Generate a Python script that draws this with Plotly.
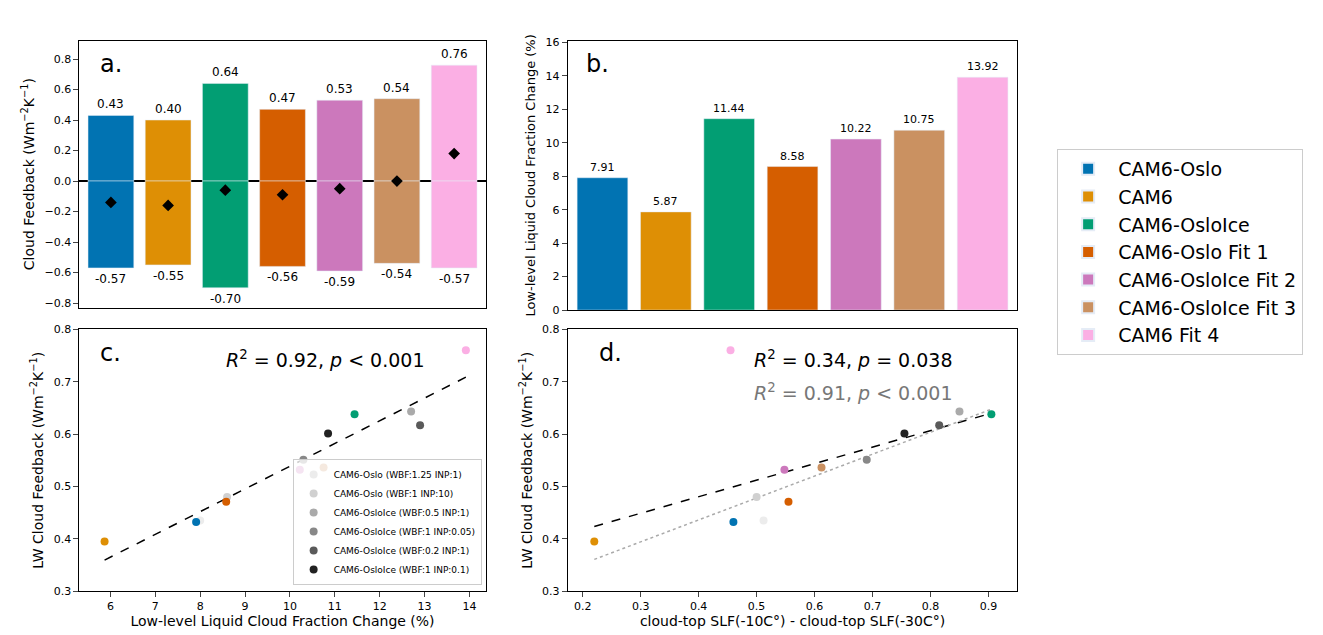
import numpy as np
import plotly.graph_objects as go

models = ["CAM6-Oslo", "CAM6", "CAM6-OsloIce", "CAM6-Oslo Fit 1", "CAM6-OsloIce Fit 2", "CAM6-OsloIce Fit 3", "CAM6 Fit 4"]
colors = ["#0173b2", "#de8f05", "#029e73", "#d55e00", "#cc78bc", "#ca9161", "#fbafe4"]
lw_fb = [0.43, 0.40, 0.64, 0.47, 0.53, 0.54, 0.76]
sw_fb = [-0.57, -0.55, -0.70, -0.56, -0.59, -0.54, -0.57]
net_fb = [-0.14, -0.16, -0.06, -0.09, -0.05, 0.0, 0.18]
llcf = [7.91, 5.87, 11.44, 8.58, 10.22, 10.75, 13.92]
lw_pts = [0.432, 0.395, 0.638, 0.471, 0.532, 0.536, 0.760]
slf = [0.46, 0.22, 0.905, 0.555, 0.548, 0.612, 0.455]

grey_names = ["CAM6-Oslo (WBF:1.25 INP:1)", "CAM6-Oslo (WBF:1 INP:10)", "CAM6-OsloIce (WBF:0.5 INP:1)",
              "CAM6-OsloIce (WBF:1 INP:0.05)", "CAM6-OsloIce (WBF:0.2 INP:1)", "CAM6-OsloIce (WBF:1 INP:0.1)"]
grey_colors = ["#ececec", "#d0d0d0", "#aaaaaa", "#888888", "#5a5a5a", "#222222"]
grey_llcf = [8.0, 8.6, 12.7, 10.3, 12.9, 10.85]
grey_lw = [0.435, 0.480, 0.643, 0.551, 0.617, 0.601]
grey_slf = [0.512, 0.500, 0.850, 0.690, 0.815, 0.755]

F = "DejaVu Sans"
fig = go.Figure()
xs = list(range(7))
for i in xs:
    fig.add_bar(x=[i], y=[lw_fb[i]], marker_color=colors[i], name=models[i], width=0.8,
                xaxis="x", yaxis="y", legend="legend", showlegend=True)
    fig.add_bar(x=[i], y=[sw_fb[i]], marker_color=colors[i], width=0.8, xaxis="x", yaxis="y", showlegend=False)
    fig.add_bar(x=[i], y=[llcf[i]], marker_color=colors[i], width=0.8, xaxis="x2", yaxis="y2", showlegend=False)
fig.add_scatter(x=xs, y=net_fb, mode="markers", marker=dict(symbol="diamond", color="black", size=9),
                xaxis="x", yaxis="y", showlegend=False)

ann = []
for i in xs:
    ann.append(dict(x=i, y=lw_fb[i], xref="x", yref="y", text=f"{lw_fb[i]:.2f}", showarrow=False, yanchor="bottom", yshift=2, font=dict(size=12)))
    ann.append(dict(x=i, y=sw_fb[i], xref="x", yref="y", text=f"{sw_fb[i]:.2f}", showarrow=False, yanchor="top", yshift=-2, font=dict(size=12)))
    ann.append(dict(x=i, y=llcf[i], xref="x2", yref="y2", text=f"{llcf[i]:.2f}", showarrow=False, yanchor="bottom", yshift=2, font=dict(size=11)))

all_c_x = llcf + grey_llcf
all_y = lw_pts + grey_lw
all_d_x = slf + grey_slf
m, b = np.polyfit(all_c_x, all_y, 1)
lx = np.array([min(all_c_x), max(all_c_x)])
fig.add_scatter(x=lx, y=m * lx + b, mode="lines", line=dict(color="black", dash="dash", width=1.5), xaxis="x3", yaxis="y3", showlegend=False)
m2, b2 = np.polyfit(all_d_x, all_y, 1)
lx2 = np.array([min(all_d_x), max(all_d_x)])
fig.add_scatter(x=lx2, y=m2 * lx2 + b2, mode="lines", line=dict(color="black", dash="dash", width=1.5), xaxis="x4", yaxis="y4", showlegend=False)
ex = [i for i in range(13) if i != 6]
m3, b3 = np.polyfit([all_d_x[i] for i in ex], [all_y[i] for i in ex], 1)
fig.add_scatter(x=lx2, y=m3 * lx2 + b3, mode="lines", line=dict(color="#aaaaaa", dash="dot", width=1.5), xaxis="x4", yaxis="y4", showlegend=False)

for j in range(6):
    fig.add_scatter(x=[grey_llcf[j]], y=[grey_lw[j]], mode="markers", marker=dict(color=grey_colors[j], size=8),
                    name=grey_names[j], xaxis="x3", yaxis="y3", legend="legend2", showlegend=True)
    fig.add_scatter(x=[grey_slf[j]], y=[grey_lw[j]], mode="markers", marker=dict(color=grey_colors[j], size=8),
                    xaxis="x4", yaxis="y4", showlegend=False)
fig.add_scatter(x=llcf, y=lw_pts, mode="markers", marker=dict(color=colors, size=8), xaxis="x3", yaxis="y3", showlegend=False)
fig.add_scatter(x=slf, y=lw_pts, mode="markers", marker=dict(color=colors, size=8), xaxis="x4", yaxis="y4", showlegend=False)

for t, x, y in [("a.", 0.068, 0.945), ("b.", 0.435, 0.945), ("c.", 0.068, 0.48), ("d.", 0.445, 0.48)]:
    ann.append(dict(x=x, y=y, xref="paper", yref="paper", text=t, showarrow=False, xanchor="left", yanchor="top", font=dict(size=24)))
ann.append(dict(x=0.317, y=0.468, xref="paper", yref="paper", text="<i>R</i><sup>2</sup> = 0.92, <i>p</i> < 0.001", showarrow=False, xanchor="right", yanchor="top", font=dict(size=19)))
ann.append(dict(x=0.716, y=0.468, xref="paper", yref="paper", text="<i>R</i><sup>2</sup> = 0.34, <i>p</i> = 0.038", showarrow=False, xanchor="right", yanchor="top", font=dict(size=19)))
ann.append(dict(x=0.716, y=0.415, xref="paper", yref="paper", text="<i>R</i><sup>2</sup> = 0.91, <i>p</i> < 0.001", showarrow=False, xanchor="right", yanchor="top", font=dict(size=19, color="#777777")))

ax = dict(showline=True, linecolor="black", mirror=True, ticks="outside", showgrid=False, zeroline=False, tickfont=dict(size=11))
fig.update_layout(
    width=1323, height=635, margin=dict(l=0, r=0, t=0, b=0), plot_bgcolor="white", paper_bgcolor="white",
    font=dict(family=F, color="black"), barmode="overlay", annotations=ann,
    xaxis=dict(ax, domain=[0.054, 0.361], anchor="y", range=[-0.55, 6.55], showticklabels=False, ticks=""),
    yaxis=dict(ax, domain=[0.528, 0.957], anchor="x", range=[-0.83, 0.92], dtick=0.2, tickformat=".1f",
               zeroline=True, zerolinecolor="black", zerolinewidth=1.5,
               title=dict(text="Cloud Feedback (Wm<sup>−2</sup>K<sup>−1</sup>)", font=dict(size=14), standoff=6)),
    xaxis2=dict(ax, domain=[0.423, 0.763], anchor="y2", range=[-0.55, 6.55], showticklabels=False, ticks=""),
    yaxis2=dict(ax, domain=[0.524, 0.957], anchor="x2", range=[0, 16.1], dtick=2,
                title=dict(text="Low-level Liquid Cloud Fraction Change (%)", font=dict(size=13), standoff=6)),
    xaxis3=dict(ax, domain=[0.054, 0.361], anchor="y3", range=[5.31, 14.36], dtick=1,
                title=dict(text="Low-level Liquid Cloud Fraction Change (%)", font=dict(size=14), standoff=0)),
    yaxis3=dict(ax, domain=[0.072, 0.493], anchor="x3", range=[0.3, 0.8], dtick=0.1, tickformat=".1f",
                title=dict(text="LW Cloud Feedback (Wm<sup>−2</sup>K<sup>−1</sup>)", font=dict(size=14), standoff=6)),
    xaxis4=dict(ax, domain=[0.423, 0.763], anchor="y4", range=[0.174, 0.95], dtick=0.1, tickformat=".1f",
                title=dict(text="cloud-top SLF(-10C°) - cloud-top SLF(-30C°)", font=dict(size=14), standoff=0)),
    yaxis4=dict(ax, domain=[0.072, 0.493], anchor="x4", range=[0.3, 0.8], dtick=0.1, tickformat=".1f",
                title=dict(text="LW Cloud Feedback (Wm<sup>−2</sup>K<sup>−1</sup>)", font=dict(size=14), standoff=6)),
    legend=dict(x=0.793, y=0.783, xanchor="left", yanchor="top", font=dict(size=19), bordercolor="#cccccc", borderwidth=1,
                itemsizing="constant", itemwidth=50, tracegroupgap=2),
    legend2=dict(x=0.358, y=0.082, xref="paper", yref="paper", xanchor="right", yanchor="bottom", font=dict(size=9),
                 bordercolor="#cccccc", borderwidth=1, bgcolor="rgba(255,255,255,0.8)", tracegroupgap=0),
)
fig.write_html("out.html")
